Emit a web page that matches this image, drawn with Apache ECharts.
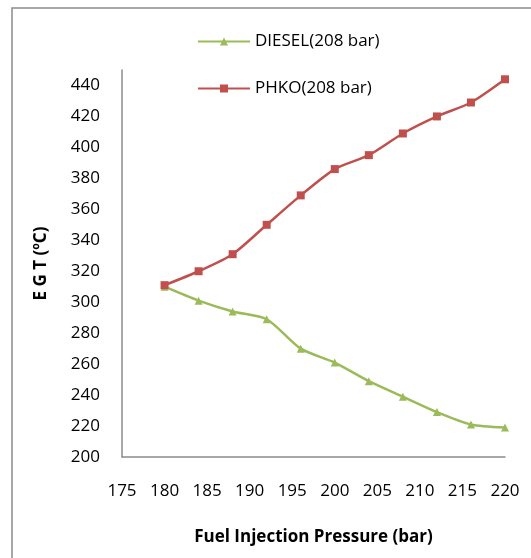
<!DOCTYPE html>
<html><head><meta charset="utf-8">
<script src="https://cdn.jsdelivr.net/npm/echarts@6/dist/echarts.min.js"></script>
<style>html,body{margin:0;padding:0;background:#fff}#c{width:531px;height:558px}</style>
</head><body><div id="c"></div>
<script>
const pressure = [180, 184, 188, 192, 196, 200, 204, 208, 212, 216, 220];
const diesel = [310, 301, 294, 289, 270, 261, 249, 239, 229, 221, 219];
const phko = [311, 320, 331, 350, 369, 386, 395, 409, 420, 429, 444];
const seriesNames = ['DIESEL(208 bar)', 'PHKO(208 bar)'];
const xTitle = 'Fuel Injection Pressure (bar)';
const yTitle = 'E G T (ºC)';

const font = 'Open Sans';
const chart = echarts.init(document.getElementById('c'));
chart.setOption({
  animation: false,
  textStyle: { fontFamily: font },
  graphic: [{
    type: 'rect', silent: true,
    shape: { x: 12, y: 8, width: 700, height: 700 },
    style: { fill: 'none', stroke: '#8c8c8c', lineWidth: 1.5 }
  }],
  legend: {
    orient: 'vertical', left: 192, top: 28,
    itemWidth: 52, itemHeight: 10, itemGap: 30,
    textStyle: { fontFamily: font, fontSize: 17, color: '#000' },
    data: seriesNames
  },
  grid: { left: 122, right: 26, top: 70, bottom: 101, containLabel: false },
  xAxis: {
    type: 'value', min: 175, max: 220, interval: 5,
    name: xTitle, nameLocation: 'middle', nameGap: 72,
    nameTextStyle: { fontFamily: font, fontSize: 17, fontWeight: 'bold', color: '#000' },
    axisLine: { show: true, lineStyle: { color: '#8c8c8c', width: 1.5 } },
    axisTick: { show: false },
    splitLine: { show: false },
    axisLabel: { margin: 26, fontSize: 17, color: '#000', fontFamily: font }
  },
  yAxis: {
    type: 'value', min: 200, max: 450, interval: 20,
    name: yTitle, nameLocation: 'middle', nameGap: 72, nameRotate: 90,
    nameTextStyle: { fontFamily: font, fontSize: 17, fontWeight: 'bold', color: '#000' },
    axisLine: { show: true, lineStyle: { color: '#8c8c8c', width: 1.5 } },
    axisTick: { show: false },
    splitLine: { show: false },
    axisLabel: { margin: 22, fontSize: 17, color: '#000', fontFamily: font, showMaxLabel: false }
  },
  series: [{
    name: seriesNames[0], type: 'line', smooth: 0.25,
    data: pressure.map((p, i) => [p, diesel[i]]),
    symbol: 'triangle', symbolSize: 8,
    lineStyle: { color: '#9BBB59', width: 2.5 },
    itemStyle: { color: '#9BBB59' }
  }, {
    name: seriesNames[1], type: 'line', smooth: 0.25,
    data: pressure.map((p, i) => [p, phko[i]]),
    symbol: 'rect', symbolSize: 8,
    lineStyle: { color: '#C0504D', width: 2.5 },
    itemStyle: { color: '#C0504D' }
  }]
});
</script></body></html>
